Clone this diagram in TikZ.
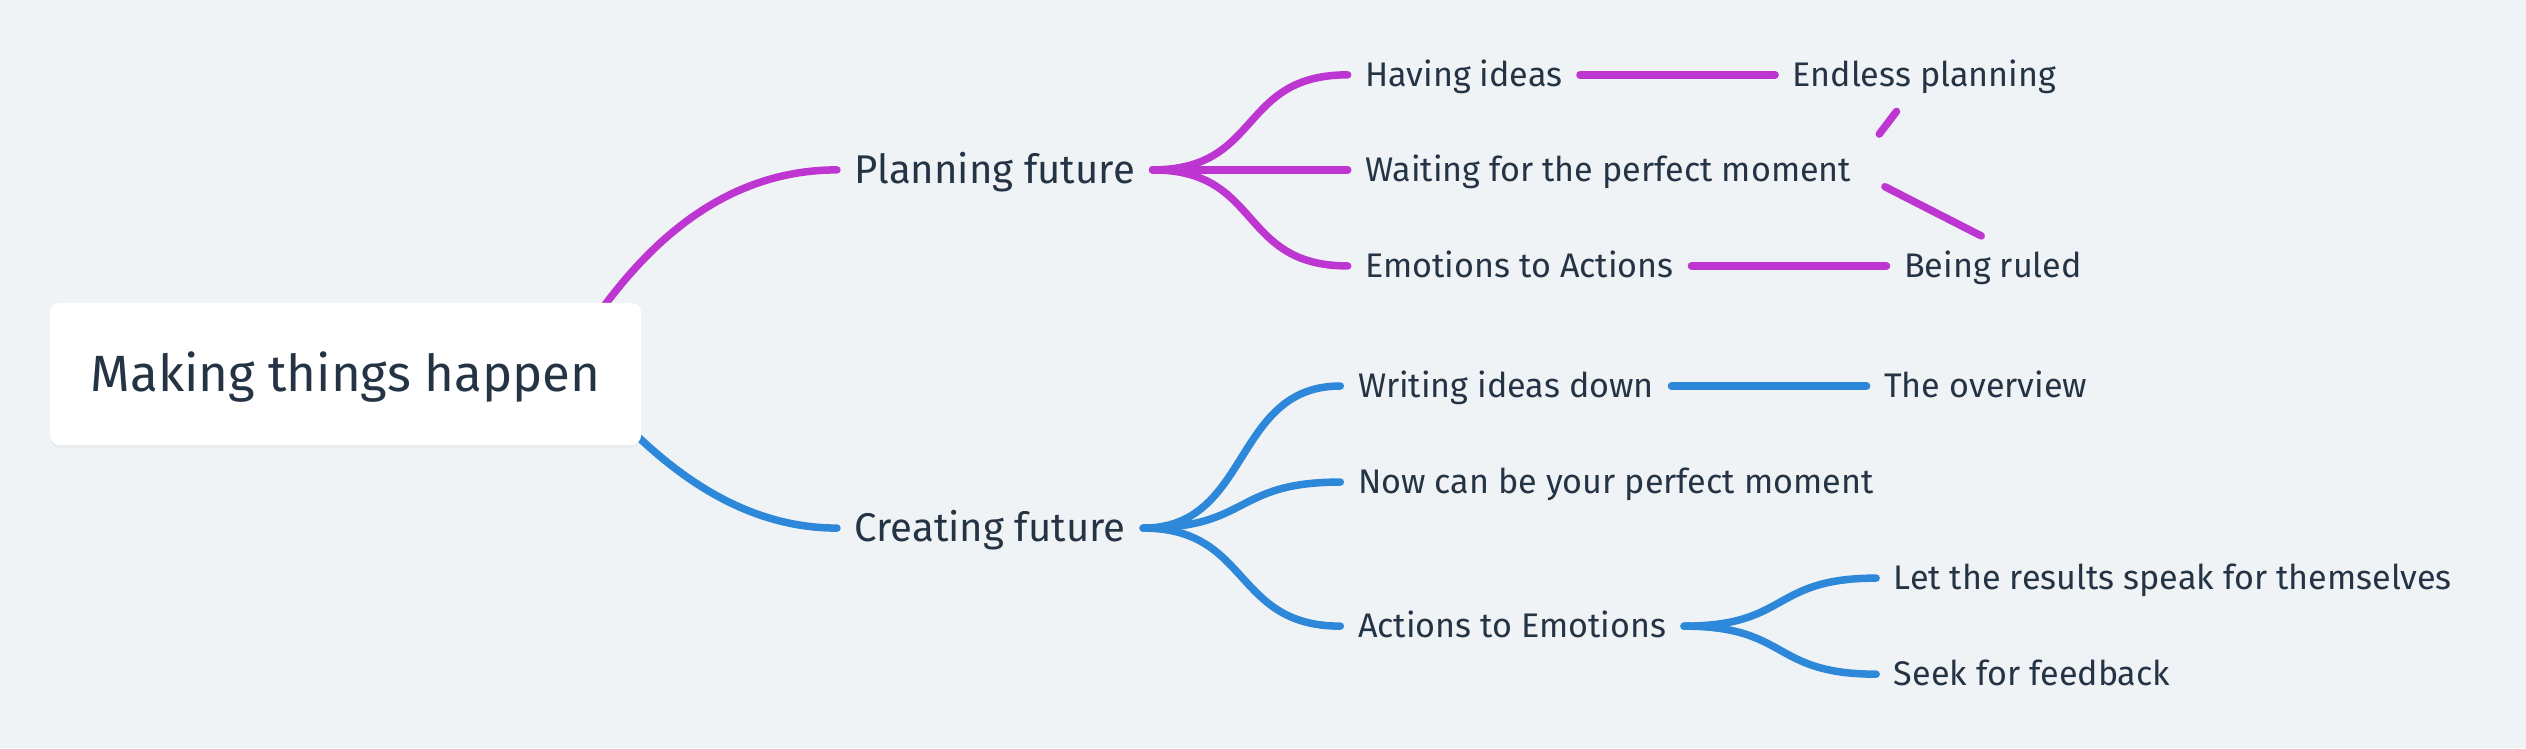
\documentclass[tikz,border=0pt]{standalone}
\usepackage{fontspec}
\setmainfont{Fira Sans}
\usepackage{tikz}
\usetikzlibrary{positioning, shadows}
\definecolor{paperbg}{RGB}{240, 243, 246}
\definecolor{inkdark}{RGB}{36, 52, 68}
\definecolor{planpurple}{RGB}{190, 54, 209}
\definecolor{createblue}{RGB}{46, 136, 218}
\pgfdeclarelayer{paper}
\pgfdeclarelayer{links}
\pgfsetlayers{paper,links,main}

\begin{document}
\begin{tikzpicture}[
    x=0.01cm, y=-0.01cm,
    rootbox/.style={fill=white, rounded corners=0.1cm, minimum width=5.91cm,
                    minimum height=1.42cm, text=inkdark, font=\fontsize{14.5}{17}\selectfont,
                    text height=0.35cm, text depth=0pt,
                    drop shadow={shadow xshift=0cm, shadow yshift=-0.03cm, opacity=0.05}},
    topic/.style={text=inkdark, inner xsep=0.17cm, font=\fontsize{11.4}{14}\selectfont,
                  text height=0.277cm, text depth=0pt},
    subtopic/.style={text=inkdark, inner xsep=0.17cm, font=\fontsize{9.7}{12}\selectfont,
                     text height=0.236cm, text depth=0pt},
    branch/.style={draw=#1, line width=0.075cm, line cap=round}
]
    \begin{pgfonlayer}{paper}
        \fill[paperbg] (0,0) rectangle (2526,748);
    \end{pgfonlayer}

    \node[rootbox] (root) at (345.5,374) {Making things happen};
    \node[topic, right=1.95cm of root, yshift=2.04cm] (plan) {Planning future};
    \node[topic, right=1.95cm of root, yshift=-1.54cm] (create) {Creating future};

    % planning side
    \node[subtopic, right=1.95cm of plan, yshift=0.95cm] (ideas) {Having ideas};
    \node[subtopic, right=1.95cm of plan] (waiting) {Waiting for the perfect moment};
    \node[subtopic, right=1.95cm of plan, yshift=-0.96cm] (emotact) {Emotions to Actions};
    \node[subtopic, right=1.95cm of ideas] (endless) {Endless planning};
    \node[subtopic, right=1.95cm of emotact] (ruled) {Being ruled};

    % creating side
    \node[subtopic, right=1.97cm of create, yshift=1.42cm] (writing) {Writing ideas down};
    \node[subtopic, right=1.97cm of create, yshift=0.46cm] (nowmoment) {Now can be your perfect moment};
    \node[subtopic, right=1.97cm of create, yshift=-0.98cm] (actemot) {Actions to Emotions};
    \node[subtopic, right=1.95cm of writing] (overview) {The overview};
    \node[subtopic, right=1.92cm of actemot, yshift=0.48cm] (results) {Let the results speak for themselves};
    \node[subtopic, right=1.92cm of actemot, yshift=-0.48cm] (feedback) {Seek for feedback};

    \begin{pgfonlayer}{links}
        \draw[branch=planpurple] ([xshift=-0.9cm]root.east) .. controls +(20,0) and +(-187,0) .. (plan.west);
        \draw[branch=createblue] ([xshift=-0.7cm]root.east) .. controls +(20,0) and +(-155,0) .. (create.west);
    \end{pgfonlayer}

    \foreach \kid in {ideas, waiting, emotact}
        \draw[branch=planpurple] (plan.east) .. controls +(110,0) and +(-110,0) .. (\kid.west);
    \foreach \kid in {writing, nowmoment, actemot}
        \draw[branch=createblue] (create.east) .. controls +(108,0) and +(-108,0) .. (\kid.west);
    \foreach \kid in {results, feedback}
        \draw[branch=createblue] (actemot.east) .. controls +(106,0) and +(-106,0) .. (\kid.west);

    \draw[branch=planpurple] (ideas.east) -- (endless.west);
    \draw[branch=planpurple] (emotact.east) -- (ruled.west);
    \draw[branch=createblue] (writing.east) -- (overview.west);

    % loose links from the waiting node
    \draw[branch=planpurple, shorten <=0.45cm, shorten >=0.46cm] ([xshift=-0.17cm]waiting.east) -- (endless.center);
    \draw[branch=planpurple, shorten <=0.37cm, shorten >=0.66cm] ([xshift=-0.17cm]waiting.east) -- ([xshift=0.47cm]ruled.center);
\end{tikzpicture}
\end{document}
